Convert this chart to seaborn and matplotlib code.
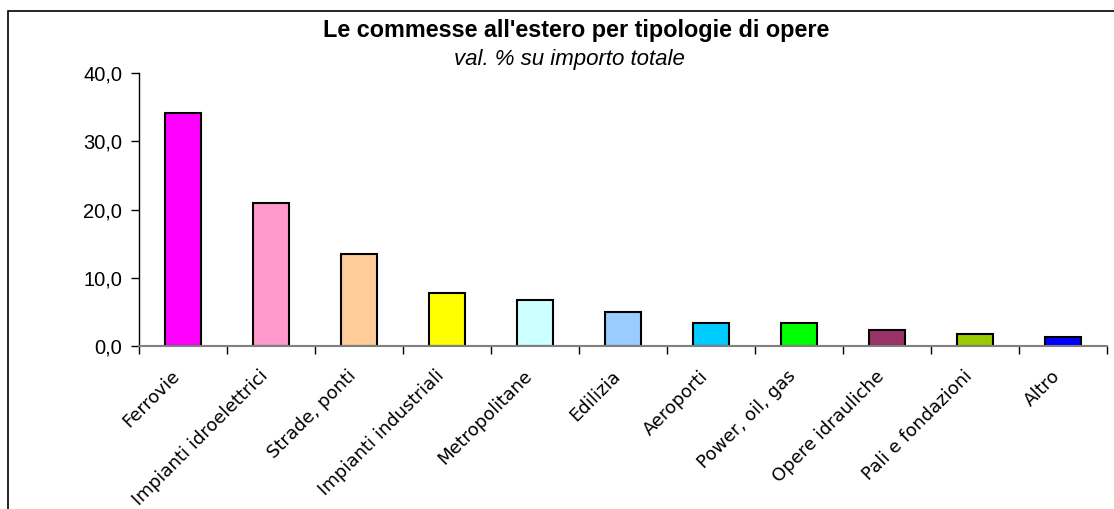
import pandas as pd
import numpy as np
import seaborn as sns
import matplotlib.pyplot as plt
from matplotlib.patches import Rectangle
from matplotlib.ticker import FixedLocator, FuncFormatter
from matplotlib.transforms import ScaledTranslation

categorie = ['Ferrovie', 'Impianti idroelettrici', 'Strade, ponti', 'Impianti industriali',
             'Metropolitane', 'Edilizia', 'Aeroporti', 'Power, oil, gas',
             'Opere idrauliche', 'Pali e fondazioni', 'Altro']
valori = [34.2, 20.9, 13.5, 7.8, 6.8, 5.0, 3.4, 3.3, 2.4, 1.7, 1.3]
colori = ['#FF00FF', '#FF99CC', '#FFCC99', '#FFFF00', '#CCFFFF', '#99CCFF',
          '#00CCFF', '#00FF00', '#993366', '#99CC00', '#0000FF']

df = pd.DataFrame({'tipologia': categorie, 'valore': valori})

sns.set_style('white')
plt.rcParams['font.family'] = ['Liberation Sans', 'DejaVu Sans']
plt.rcParams['text.color'] = 'black'

fig = plt.figure(figsize=(11.14, 5.09), dpi=100)
ax = fig.add_axes([139 / 1114, 1 - 346 / 509, (1107 - 139) / 1114, (346 - 73) / 509])

sns.barplot(data=df, x='tipologia', y='valore', hue='tipologia',
            palette=dict(zip(categorie, colori)), legend=False, saturation=1,
            width=0.41, edgecolor='black', linewidth=1.5, ax=ax)

ax.set_xlim(-0.5, len(categorie) - 0.5)
ax.set_ylim(0, 40)
ax.set_yticks([0, 10, 20, 30, 40])
ax.yaxis.set_major_formatter(FuncFormatter(lambda v, p: f'{v:.1f}'.replace('.', ',')))
ax.tick_params(axis='y', direction='out', length=6, width=1, color='black',
               labelcolor='black', labelsize=14.5, pad=6, left=True)

ax.set_xticks(range(len(categorie)))
ax.set_xticklabels(categorie, rotation=45, ha='right', rotation_mode='anchor',
                   fontsize=13, family=['DejaVu Sans'], color='black')
ax.tick_params(axis='x', which='major', length=0, pad=15)
offset = ScaledTranslation(-12 / 100, 0, fig.dpi_scale_trans)
for lab in ax.get_xticklabels():
    lab.set_transform(lab.get_transform() + offset)
ax.xaxis.set_minor_locator(FixedLocator(np.arange(-0.5, len(categorie), 1)))
ax.tick_params(axis='x', which='minor', direction='out', length=6, width=1,
               color='black', bottom=True)

for s in ['top', 'right']:
    ax.spines[s].set_visible(False)
ax.spines['left'].set_color('black')
ax.spines['left'].set_linewidth(1)
ax.spines['bottom'].set_color('#808080')
ax.spines['bottom'].set_linewidth(1.5)
ax.set_xlabel('')
ax.set_ylabel('')

fig.text(576 / 1114, 1 - 31 / 509, "Le commesse all'estero per tipologie di opere",
         ha='center', va='center', fontsize=16.8, fontweight='bold')
fig.text(569 / 1114, 1 - 60 / 509, 'val. % su importo totale',
         ha='center', va='center', fontsize=16, style='italic')

fig.patches.append(Rectangle((8 / 1114, -0.1), 1.2, 1 - 11 / 509 + 0.1,
                             transform=fig.transFigure, fill=False,
                             edgecolor='black', linewidth=1.2))

fig.savefig('out.png', dpi=100)
